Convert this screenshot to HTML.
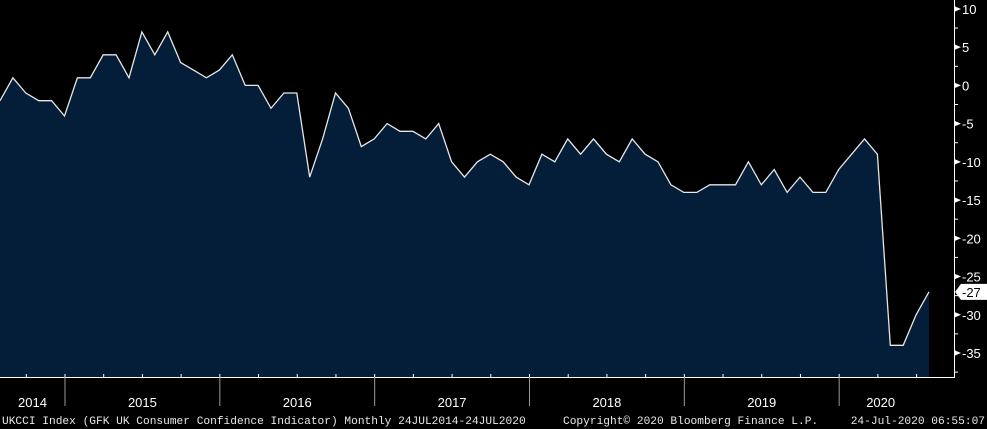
<!DOCTYPE html>
<html><head><meta charset="utf-8">
<style>
html,body{margin:0;padding:0;background:#000;}
body{width:987px;height:429px;overflow:hidden;position:relative;font-family:"Liberation Sans","DejaVu Sans",sans-serif;}
svg{position:absolute;left:0;top:0;}
</style></head>
<body>
<svg id="chart" width="987" height="429" xmlns="http://www.w3.org/2000/svg">
<rect width="987" height="429" fill="#000"/>
<g id="plot"></g>
<g id="yaxis"></g>
<g id="xaxis"></g>
<text x="2" y="424" fill="#e8e8e8" font-family="Liberation Mono, monospace" font-size="11.2">UKCCI Index (GFK UK Consumer Confidence Indicator)  Monthly 24JUL2014-24JUL2020</text>
<text x="563" y="424" fill="#e8e8e8" font-family="Liberation Mono, monospace" font-size="11.2">Copyright© 2020 Bloomberg Finance L.P.</text>
<text x="985" y="424" text-anchor="end" fill="#e8e8e8" font-family="Liberation Mono, monospace" font-size="11.2">24-Jul-2020 06:55:07</text>
</svg>
<script>
const values = [-2,1,-1,-2,-2,-4,1,1,4,4,1,7,4,7,3,2,1,2,4,0,0,-3,-1,-1,-12,-7,-1,-3,-8,-7,-5,-6,-6,-7,-5,-10,-12,-10,-9,-10,-12,-13,-9,-10,-7,-9,-7,-9,-10,-7,-9,-10,-13,-14,-14,-13,-13,-13,-10,-13,-11,-14,-12,-14,-14,-11,-9,-7,-9,-34,-34,-30,-27];
const yTicks = [10,5,0,-5,-10,-15,-20,-25,-30,-35];
const years = ["2014","2015","2016","2017","2018","2019","2020"];
const NS="http://www.w3.org/2000/svg";
const y = v => 85.4 - v*7.645;
const x = i => i*(929/(values.length-1));
const bottom = 377;
function mk(tag, attrs, parent){const e=document.createElementNS(NS,tag);for(const k in attrs)e.setAttribute(k,attrs[k]);parent.appendChild(e);return e;}
const plot=document.getElementById('plot');
let d="M"+x(0)+","+bottom;
values.forEach((v,i)=>{d+=" L"+x(i).toFixed(1)+","+y(v).toFixed(1);});
d+=" L"+x(values.length-1)+","+bottom+" Z";
const area=mk('path',{d:d,fill:'#041e3a'},plot);


let ld="";
values.forEach((v,i)=>{ld+=(i?" L":"M")+x(i).toFixed(1)+","+y(v).toFixed(1);});
const line=mk('path',{d:ld,fill:'none',stroke:'#e6e6e6','stroke-width':1.3},plot);


// y axis
const ya=document.getElementById('yaxis');
const axl=mk('line',{x1:954.5,y1:0,x2:954.5,y2:bottom,stroke:'#fff','stroke-width':1},ya);


for(let v=12.5;v>=-37.5;v-=5){mk('line',{x1:954,y1:y(v),x2:958,y2:y(v),stroke:'#fff'},ya);}
yTicks.forEach(v=>{
  const yy=y(v);
  mk('polygon',{points:`954,${yy-3} 961,${yy} 954,${yy+3}`,fill:'#fff'},ya);
  const t=mk('text',{x:962,y:yy+5,fill:'#fff','font-size':13},ya);
  t.textContent=(v<0?"-":"")+Math.abs(v).toString().replace(/^/, v<0?"":"");
  if(v<0)t.textContent="-"+Math.abs(v);
  
  
});
// last value label
const lv=values[values.length-1], ly=y(lv);
const lab=mk('polygon',{points:`955,${ly} 961,${ly-8} 987,${ly-8} 987,${ly+8} 961,${ly+8}`,fill:'#fff'},ya);


const lt=mk('text',{x:962,y:ly+5,fill:'#000','font-size':13},ya);
lt.textContent=String(lv);


// x axis
const xa=document.getElementById('xaxis');
const xl=mk('line',{x1:0,y1:bottom+0.5,x2:955,y2:bottom+0.5,stroke:'#fff'},xa);


const step=929/(values.length-1);
const jan0 = 65; // Jan 2015 separator
for(let k=-2;k<=23;k++){const xx=jan0+k*3*step; if(xx<0||xx>953)continue; mk('line',{x1:xx,y1:bottom-3,x2:xx,y2:bottom,stroke:'#fff'},xa);}
for(let k=0;k<6;k++){const xx=jan0+k*12*step;const s=mk('line',{x1:xx,y1:bottom,x2:xx,y2:406,stroke:'#9a9a9a'},xa);}
years.forEach((yr,k)=>{
  let l=k===0?0:jan0+(k-1)*12*step, r=jan0+k*12*step; if(r>954)r=954;
  if(k===6) r=jan0+5*12*step+83;
  const t=mk('text',{x:(l+r)/2,y:407,fill:'#fff','font-size':13,'text-anchor':'middle'},xa);
  t.textContent=yr;
  
  
});
</script>
</body></html>
